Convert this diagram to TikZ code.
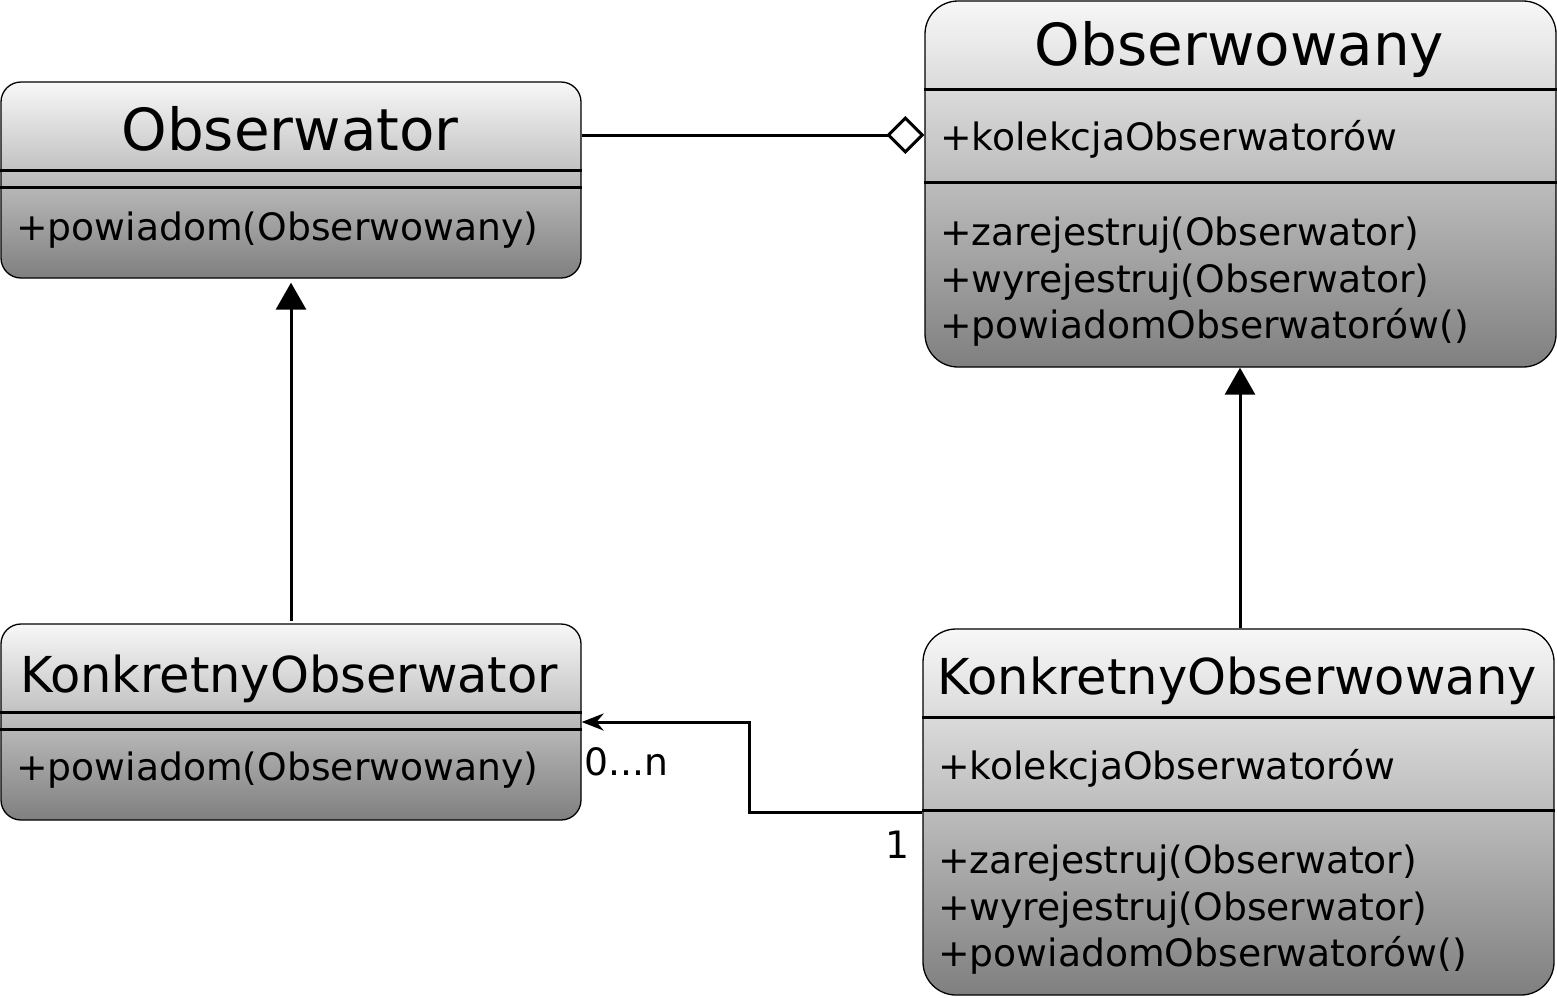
\documentclass[tikz,border=0pt]{standalone}
\usepackage{fontspec}
\setmainfont{DejaVu Sans}
\usetikzlibrary{arrows.meta}

\tikzset{
	klasa/.style={draw=black, line width=1.3pt, top color=white!97!black, bottom color=black!50, inner sep=0pt},
	kreska/.style={line width=3pt},
	tytul/.style={anchor=base, inner sep=0pt},
	pole/.style={anchor=base west, inner sep=0pt},
	polaczenie/.style={line width=3pt},
}
\newcommand{\duzy}{\fontsize{58}{58}\selectfont}
\newcommand{\sredni}{\fontsize{49.5}{49.5}\selectfont}
\newcommand{\maly}{\fontsize{37.7}{47}\selectfont}

\begin{document}
\begin{tikzpicture}[x=1pt,y=-1pt]
		\useasboundingbox (0,0) rectangle (1557,997) ;

		% klasy
		\node[klasa, rounded corners=20pt, minimum width=580pt, minimum height=196pt] (obs) at (291,180) {} ;
		\node[klasa, rounded corners=33pt, minimum width=631pt, minimum height=366pt] (obsd) at (1240.5,184) {} ;
		\node[klasa, rounded corners=20pt, minimum width=580pt, minimum height=196pt] (kobs) at (291,722) {} ;
		\node[klasa, rounded corners=33pt, minimum width=631pt, minimum height=366pt] (kobsd) at (1238.5,812) {} ;

		% kreski
		\draw[kreska] (obs.west |- 0,170) -- (obs.east |- 0,170) ;
		\draw[kreska] (obs.west |- 0,187) -- (obs.east |- 0,187) ;
		\draw[kreska] (obsd.west |- 0,89) -- (obsd.east |- 0,89) ;
		\draw[kreska] (obsd.west |- 0,182) -- (obsd.east |- 0,182) ;
		\draw[kreska] (kobs.west |- 0,712) -- (kobs.east |- 0,712) ;
		\draw[kreska] (kobs.west |- 0,729) -- (kobs.east |- 0,729) ;
		\draw[kreska] (kobsd.west |- 0,717) -- (kobsd.east |- 0,717) ;
		\draw[kreska] (kobsd.west |- 0,810) -- (kobsd.east |- 0,810) ;

		% napisy
		\node[tytul] (obsT) at (290,150) {\duzy Obserwator} ;
		\node[pole] (obsM) at (16,240) {\maly +powiadom(Obserwowany)} ;

		\node[tytul] (obsdT) at (1239.5,65) {\duzy Obserwowany} ;
		\node[pole] (obsdA) at (940,150) {\maly +kolekcjaObserwatorów} ;
		\node[pole] (obsdM1) at (940,245) {\maly +zarejestruj(Obserwator)} ;
		\node[pole] (obsdM2) at (940,292) {\maly +wyrejestruj(Obserwator)} ;
		\node[pole] (obsdM3) at (940,338) {\maly +powiadomObserwatorów()} ;

		\node[tytul] (kobsT) at (289,692) {\sredni KonkretnyObserwator} ;
		\node[pole] (kobsM) at (16,780) {\maly +powiadom(Obserwowany)} ;

		\node[tytul] (kobsdT) at (1237,694) {\sredni KonkretnyObserwowany} ;
		\node[pole] (kobsdA) at (938,779) {\maly +kolekcjaObserwatorów} ;
		\node[pole] (kobsdM1) at (938,873) {\maly +zarejestruj(Obserwator)} ;
		\node[pole] (kobsdM2) at (938,920) {\maly +wyrejestruj(Obserwator)} ;
		\node[pole] (kobsdM3) at (938,966) {\maly +powiadomObserwatorów()} ;

		% polaczenia
		\coordinate (agg) at ([yshift=45pt]obs.east) ;
		\draw[polaczenie, -{Diamond[fill=white, length=38pt, width=38pt]}] (agg) -- (agg -| obsd.west) ;
		\draw[polaczenie, -{Triangle[length=27pt, width=30pt]}, shorten >=4pt, shorten <=2pt] (kobs.north) -- (obs.south) ;
		\draw[polaczenie, -{Triangle[length=27pt, width=30pt]}] (kobsd.north -| 1240,0) -- (obsd.south -| 1240,0) ;
		\draw[polaczenie, -{Stealth[length=22pt, width=17pt]}] (kobsd.west) -- ++(-173,0) |- (kobs.east) ;

		\node[anchor=base west, inner sep=0pt] (wiele) at (584,775) {\maly 0...n} ;
		\node[anchor=base west, inner sep=0pt] (jeden) at (885,858) {\maly 1} ;
	\end{tikzpicture}
\end{document}
